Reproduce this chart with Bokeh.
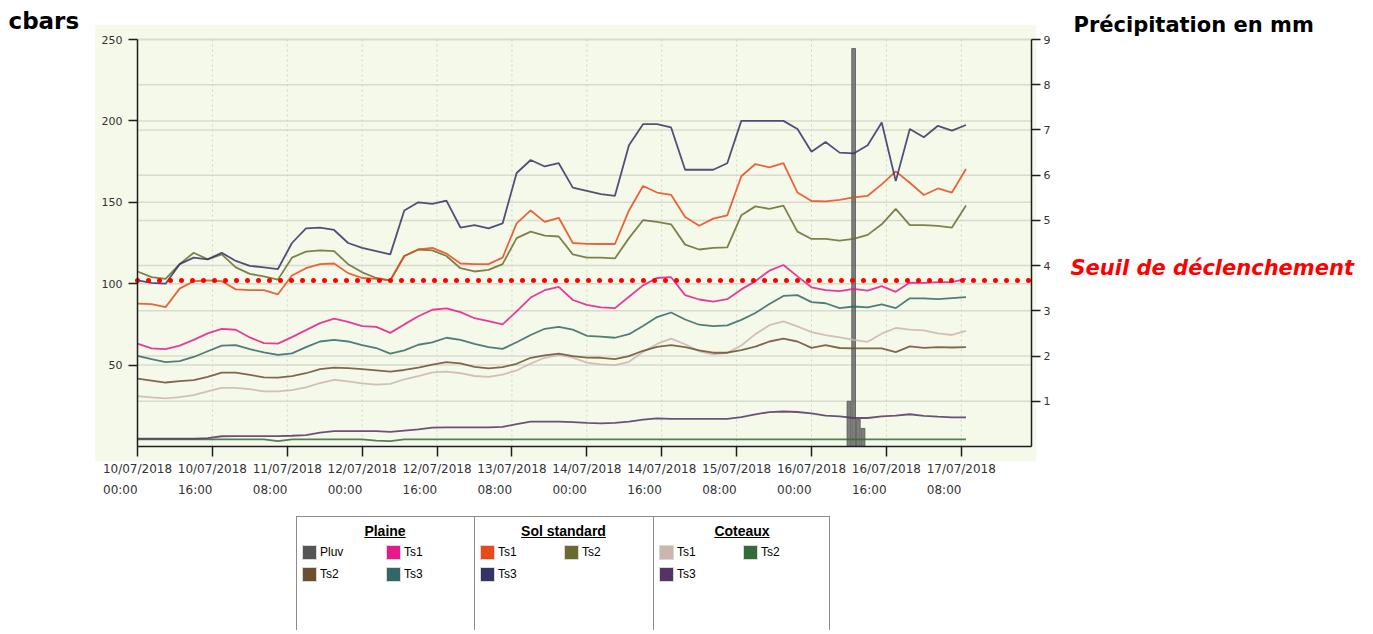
from bokeh.plotting import figure
from bokeh.models import Range1d, LinearAxis, FixedTicker, Label, Div
from bokeh.layouts import column
from bokeh.embed import file_html
from bokeh.resources import INLINE

# ---------------- data ----------------
# hours since 10/07/2018 00:00, every 3 hours
hours = list(range(0, 178, 3))

sol_ts3 = [102, 100.5, 100, 112, 116, 115, 119, 114, 111, 110,
           109, 125, 134, 134.5, 133, 125, 122, 120, 118, 145,
           150, 149, 151, 134.5, 136, 134, 137, 168, 176, 172,
           174, 159, 157, 155, 154, 185, 198, 198, 196, 170,
           170, 170, 174, 200, 200, 200, 200, 195, 181, 187,
           180.5, 180, 185, 199, 163, 195, 190, 197, 194, 197.5]
sol_ts1 = [87.7, 87.5, 85.6, 97, 101.5, 102, 101.5, 96.5, 96, 96,
           93.5, 105, 109.5, 112, 112.4, 106.5, 103.5, 103, 102, 117,
           121, 122, 118.5, 112.4, 112, 112, 116, 137, 145, 138,
           140.5, 125, 124.5, 124.4, 124.4, 145, 160, 156, 154.6, 141,
           135.6, 140, 142, 166, 173.5, 171.5, 174, 156, 150.8, 150.6,
           151.5, 153, 154, 161, 169, 162, 154.5, 158.5, 156, 170.5]
sol_ts2 = [107.5, 104, 103, 112, 119, 115, 118, 110, 106, 104.5,
           102.5, 116, 119.7, 120.5, 120, 112, 107, 103.5, 102, 117,
           121, 120.5, 117, 109.5, 107.5, 108.5, 112, 128, 132, 129.5,
           129, 118, 116, 116, 115.5, 128, 139, 138, 136.5, 124,
           121, 122, 122.3, 142, 147.5, 146, 148, 132, 127.5, 127.5,
           126.5, 127.5, 130, 136.5, 146, 136, 136, 135.5, 134.5, 148]
plaine_ts1 = [63.2, 60.3, 59.8, 62, 65.5, 69.5, 72.2, 71.7, 67, 63.5,
              63.2, 67.2, 71.5, 75.8, 78.5, 76.5, 74, 73.5, 69.8, 75,
              80, 84, 84.8, 82.5, 78.8, 77, 75, 83, 91.5, 96,
              98, 90, 87, 85.5, 85, 92, 99, 103.5, 104, 93,
              90.3, 89, 90.5, 96.5, 101.5, 108, 111.5, 104.5, 97.8, 96,
              95.5, 96.8, 95.8, 98.5, 95, 100.7, 100.5, 101, 101, 103]
plaine_ts3 = [55.7, 53.6, 51.8, 52.5, 55, 58.5, 62, 62.3, 59.8, 57.8,
              56.3, 57.2, 61, 64.5, 65.5, 64.5, 62.3, 60.5, 57, 59,
              62.5, 64, 66.8, 65.5, 63, 61, 60, 64, 68.5, 72.3,
              73.5, 71.8, 68, 67.5, 66.8, 69, 74, 79.5, 82.3, 78,
              74.8, 74, 74.4, 77.8, 82, 87.5, 92.5, 93, 88.7, 88,
              85, 86, 85.5, 87.3, 85, 91, 91, 90.5, 91.2, 91.7]
plaine_ts2 = [41.7, 40.5, 39.3, 40.2, 40.8, 42.8, 45.4, 45.4, 44, 42.5,
              42.3, 43.2, 45, 47.5, 48.5, 48.2, 47.5, 46.8, 46, 47,
              48.5, 50.3, 51.8, 51, 48.9, 48, 48.8, 50.8, 54.5, 56,
              57, 55.5, 54.6, 54.5, 53.7, 55.5, 58.8, 61.2, 62.3, 61,
              59, 57.6, 57.6, 59.2, 61.3, 64.5, 66.3, 64.5, 60.6, 62.2,
              60.5, 60.3, 60.3, 60.3, 58, 61.5, 60.6, 61, 60.8, 61]
coteaux_ts1 = [31, 30.2, 29.6, 30.3, 31.6, 33.8, 36, 36, 35.2, 33.8,
               33.8, 34.6, 36.3, 39, 41, 40, 38.8, 38, 38.5, 41.3,
               43.3, 45.5, 46, 45, 43.3, 42.8, 44.2, 46.7, 51, 54.5,
               56.3, 54.6, 51.5, 50.5, 50, 52, 58, 63, 66.3, 62.8,
               58.5, 56.6, 57.5, 62, 69, 74.5, 76.8, 73.8, 70.3, 68.4,
               67, 65.5, 64.3, 69.3, 72.8, 71.8, 71.3, 69.5, 68.5, 71]
coteaux_ts3 = [4.8, 4.8, 4.8, 4.8, 4.8, 5.2, 6.3, 6.4, 6.4, 6.4,
               6.4, 6.6, 7, 8.5, 9.4, 9.4, 9.4, 9.4, 9, 9.8,
               10.5, 11.6, 11.8, 11.8, 11.8, 11.8, 12, 13.8, 15.3, 15.3,
               15.3, 15, 14.5, 14.2, 14.5, 15.3, 16.5, 17.3, 17, 17,
               17, 17, 17, 18, 19.8, 21.1, 21.5, 21.2, 20.4, 19,
               18.5, 17.5, 17.5, 18.5, 19, 19.8, 18.8, 18.3, 17.9, 17.9]
coteaux_ts2 = [4.4, 4.4, 4.4, 4.4, 4.4, 4.4, 4.4, 4.4, 4.4, 4.4,
               3.3, 4.4, 4.4, 4.4, 4.4, 4.4, 4.4, 3.6, 3.3, 4.4,
               4.4, 4.4, 4.4, 4.4, 4.4, 4.4, 4.4, 4.4, 4.4, 4.4,
               4.4, 4.4, 4.4, 4.4, 4.4, 4.4, 4.4, 4.4, 4.4, 4.4,
               4.4, 4.4, 4.4, 4.4, 4.4, 4.4, 4.4, 4.4, 4.4, 4.4,
               4.4, 4.4, 4.4, 4.4, 4.4, 4.4, 4.4, 4.4, 4.4, 4.4]

pluv_hours = [152, 153, 154, 155]
pluv_mm = [1.0, 8.8, 0.6, 0.4]

threshold = 102

tick_hours = [0, 16, 32, 48, 64, 80, 96, 112, 128, 144, 160, 176]
tick_dates = ["10/07/2018", "10/07/2018", "11/07/2018", "12/07/2018", "12/07/2018",
              "13/07/2018", "14/07/2018", "14/07/2018", "15/07/2018", "16/07/2018",
              "16/07/2018", "17/07/2018"]
tick_times = ["00:00", "16:00", "08:00", "00:00", "16:00", "08:00",
              "00:00", "16:00", "08:00", "00:00", "16:00", "08:00"]
cbar_ticks = [50, 100, 150, 200, 250]
mm_ticks = [1, 2, 3, 4, 5, 6, 7, 8, 9]

X_MAX = 191      # end of the time axis (hours)
Y_MAX = 250      # cbars
MM_MAX = 9       # mm

colors = {
    "Pluv": "#555555",
    "Plaine Ts1": "#e8198b", "Plaine Ts2": "#6b4f2e", "Plaine Ts3": "#336666",
    "Sol Ts1": "#e84a1b", "Sol Ts2": "#6b6b2e", "Sol Ts3": "#333366",
    "Coteaux Ts1": "#ccb5ad", "Coteaux Ts2": "#336b3b", "Coteaux Ts3": "#553366",
}

# ---------------- geometry (screen px) ----------------
W, H = 1370, 500
AX_L, AX_R, AX_T, AX_B = 137, 1031, 39, 446          # axes box on the canvas
PXX = (AX_R - AX_L) / X_MAX
PXY = (AX_B - AX_T) / Y_MAX
x0, x1 = -AX_L / PXX, (W - AX_L) / PXX
y0, y1 = -(H - AX_B) / PXY, Y_MAX + AX_T / PXY
k = MM_MAX / Y_MAX

p = figure(width=W, height=H, x_range=Range1d(x0, x1), y_range=Range1d(y0, y1),
           output_backend="svg", toolbar_location=None,
           min_border_left=0, min_border_right=0, min_border_top=0, min_border_bottom=0)
p.extra_y_ranges = {"mm": Range1d(y0 * k, y1 * k)}
p.outline_line_color = None
p.background_fill_color = "white"
p.border_fill_color = "white"
p.xgrid.visible = False
p.ygrid.visible = False

AX = "#1e1e1e"


def style_axis(a, size):
    a.major_tick_in = 0
    a.minor_tick_line_color = None
    a.axis_line_color = AX
    a.axis_line_width = 1.5
    a.major_tick_line_color = AX
    a.major_tick_line_width = 1.5
    a.major_label_text_font = "DejaVu Sans"
    a.major_label_text_font_size = size
    a.major_label_text_color = "#333333"


nb = "\u00a0"
xa = p.xaxis[0]
xa.ticker = FixedTicker(ticks=tick_hours)
xa.major_label_overrides = {h: d + "\n" + t + nb * 9 for h, d, t in zip(tick_hours, tick_dates, tick_times)}
xa.fixed_location = 0
xa.bounds = (0, X_MAX)
style_axis(xa, "12px")
xa.major_tick_out = 10
xa.major_label_text_line_height = 1.5
xa.major_label_standoff = 5

ya = p.yaxis[0]
ya.ticker = FixedTicker(ticks=cbar_ticks)
ya.fixed_location = 0
ya.bounds = (0, Y_MAX)
style_axis(ya, "11px")
ya.major_tick_out = 9
ya.major_label_standoff = 6

ra = LinearAxis(y_range_name="mm", ticker=FixedTicker(ticks=mm_ticks))
ra.fixed_location = X_MAX
ra.bounds = (0, MM_MAX)
style_axis(ra, "11px")
ra.major_tick_out = 9
ra.major_label_standoff = 3
p.add_layout(ra, "right")

# plot-area background (slightly larger than the axes box, as in the original)
p.quad(left=[-9], right=[X_MAX + 1], bottom=[-9], top=[Y_MAX + 9],
       fill_color="#f5f9ea", line_color=None)

# grid lines
p.segment(x0=0, x1=X_MAX, y0=cbar_ticks, y1=cbar_ticks, line_color="#d8dccd", line_width=1.5)
p.segment(x0=0, x1=X_MAX, y0=mm_ticks, y1=mm_ticks, y_range_name="mm",
          line_color="#d8dccd", line_width=1.5)
p.segment(x0=tick_hours[1:], x1=tick_hours[1:], y0=0, y1=Y_MAX,
          line_color="#cfd4c6", line_width=1, line_dash="2 3")

# precipitation bars
p.vbar(x=pluv_hours, top=pluv_mm, width=0.8, y_range_name="mm",
       fill_color=colors["Pluv"], fill_alpha=0.75, line_color=colors["Pluv"], line_alpha=0.8)

# tension lines
series = [
    (coteaux_ts2, "Coteaux Ts2"), (coteaux_ts3, "Coteaux Ts3"),
    (coteaux_ts1, "Coteaux Ts1"), (plaine_ts2, "Plaine Ts2"),
    (plaine_ts3, "Plaine Ts3"), (plaine_ts1, "Plaine Ts1"),
    (sol_ts2, "Sol Ts2"), (sol_ts1, "Sol Ts1"), (sol_ts3, "Sol Ts3"),
]
for vals, name in series:
    p.line(hours, vals, line_color=colors[name], line_width=1.8, line_alpha=0.85)

# threshold (dotted red)
p.segment(x0=[0], x1=[X_MAX], y0=[threshold], y1=[threshold], line_color="#ff0000",
          line_width=5, line_dash="0 11", line_cap="round")


def sx(px):
    return (px - AX_L) / PXX


def sy(py):
    return Y_MAX - (py - AX_T) / PXY


p.add_layout(Label(x=sx(8), y=sy(20), text="cbars", text_font="DejaVu Sans",
                   text_font_size="23px", text_font_style="bold", text_color="#000000",
                   text_align="left", text_baseline="middle"))
p.add_layout(Label(x=sx(1073), y=sy(24), text="Précipitation en mm", text_font="DejaVu Sans",
                   text_font_size="21px", text_font_style="bold", text_color="#000000",
                   text_align="left", text_baseline="middle"))
p.add_layout(Label(x=sx(1070), y=sy(267), text="Seuil de déclenchement", text_font="DejaVu Sans",
                   text_font_size="21px", text_font_style="bold italic", text_color="#ff0000",
                   text_align="left", text_baseline="middle"))

# ---------------- legend (HTML) ----------------
legend_groups = ["Plaine", "Sol standard", "Coteaux"]
legend_items = [
    [("Pluv", "Pluv"), ("Ts1", "Plaine Ts1"), ("Ts2", "Plaine Ts2"), ("Ts3", "Plaine Ts3")],
    [("Ts1", "Sol Ts1"), ("Ts2", "Sol Ts2"), ("Ts3", "Sol Ts3")],
    [("Ts1", "Coteaux Ts1"), ("Ts2", "Coteaux Ts2"), ("Ts3", "Coteaux Ts3")],
]
LH = 130
cell_left = [296, 474, 653]
cell_w = [178, 179, 178]
top = 16
parts = ['<div style="position:relative;width:%dpx;height:%dpx;'
         'font-family:\'Liberation Sans\',Arial,sans-serif;color:#000;">' % (W, LH)]
parts.append('<div style="position:absolute;left:296px;top:%dpx;width:534px;height:%dpx;'
             'border:1px solid #8c8c8c;border-bottom:none;"></div>' % (top, LH - top))
for cx in cell_left[1:]:
    parts.append('<div style="position:absolute;left:%dpx;top:%dpx;width:0;height:%dpx;'
                 'border-left:1px solid #8c8c8c;"></div>' % (cx, top, LH - top))
for gi, grp in enumerate(legend_groups):
    cl = cell_left[gi]
    parts.append('<div style="position:absolute;left:%dpx;top:%dpx;width:%dpx;text-align:center;'
                 'font-weight:bold;font-size:14px;line-height:16px;text-decoration:underline;">%s</div>'
                 % (cl, top + 7, cell_w[gi], grp))
    for kk, (lab, key) in enumerate(legend_items[gi]):
        row, col = divmod(kk, 2)
        bx = cl + 6 + col * 84
        by = top + 29 + row * 22
        parts.append('<div style="position:absolute;left:%dpx;top:%dpx;width:15px;height:15px;'
                     'box-sizing:border-box;border:1px solid #d8d8d8;background:%s;"></div>'
                     % (bx, by, colors[key]))
        parts.append('<div style="position:absolute;left:%dpx;top:%dpx;font-size:12px;line-height:16px;">%s</div>'
                     % (bx + 18, by - 1, lab))
parts.append('</div>')
legend = Div(text="".join(parts), width=W, height=LH, margin=(0, 0, 0, 0))

layout = column(p, legend, spacing=0)
open("out.html", "w").write(file_html(layout, INLINE))
